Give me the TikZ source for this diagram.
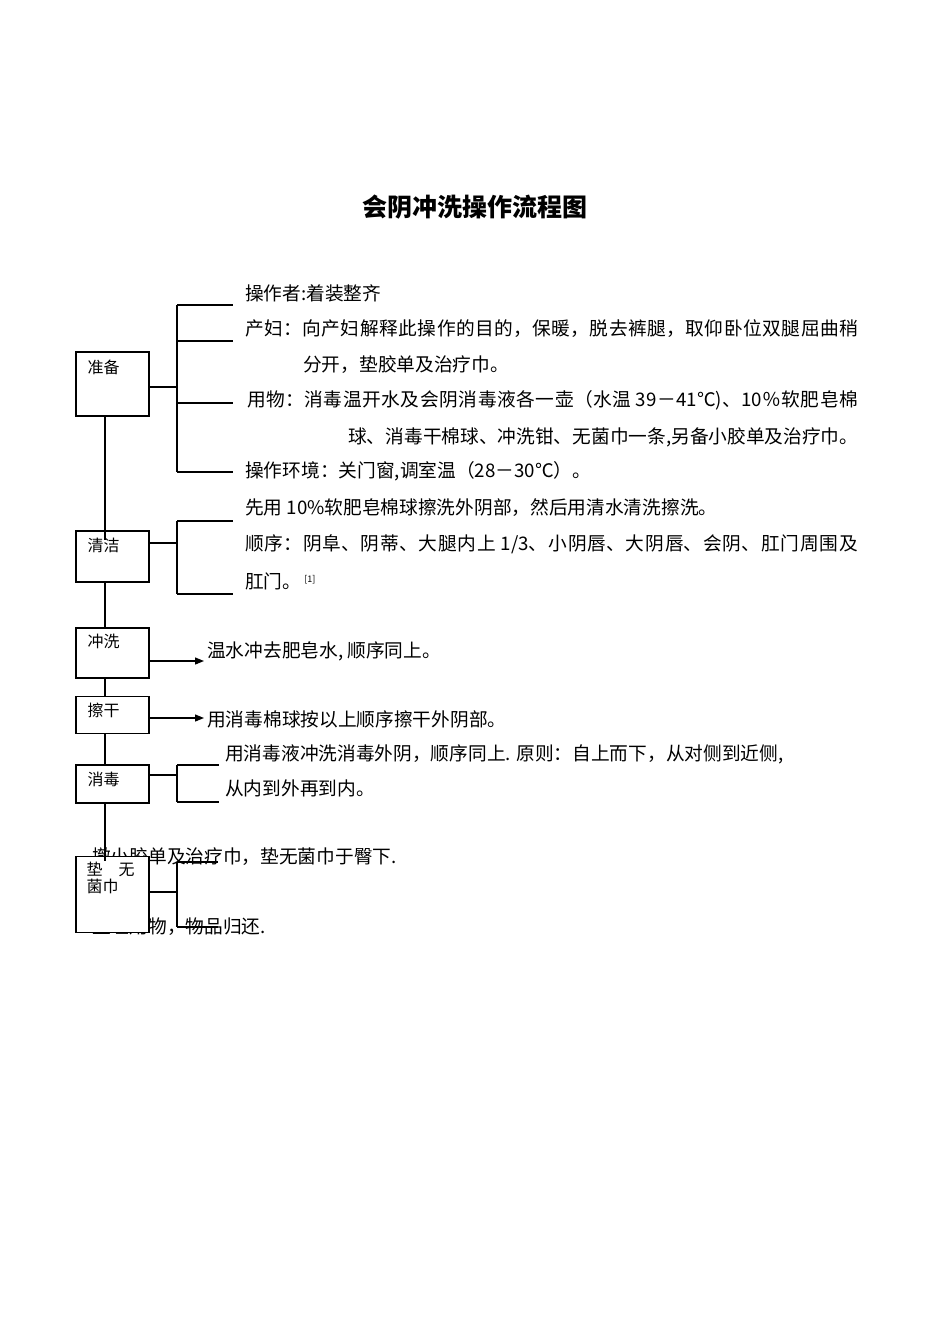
\documentclass[tikz,border=0pt]{standalone}
\usepackage{fontspec}
\setmainfont{Noto Sans CJK SC}
\usetikzlibrary{arrows.meta}
\XeTeXlinebreaklocale "zh"
\XeTeXlinebreakskip=0pt plus 3pt
\pgfdeclarelayer{textlayer}
\pgfdeclarelayer{nodelayer}
\pgfdeclarelayer{edgelayer}
\pgfsetlayers{textlayer,nodelayer,edgelayer,main}
\tikzstyle{stage}=[rectangle, draw=black, fill=white, line width=1.2pt, minimum width=73pt, inner sep=0pt]
\tikzstyle{stagetext}=[anchor=west, inner sep=0pt, align=left, font=\fontsize{16}{17}\selectfont]
\tikzstyle{item}=[anchor=west, inner sep=0pt, font=\fontsize{18.7}{19}\selectfont]
\tikzstyle{link}=[-, draw=black, line width=1.2pt]
\tikzstyle{arrow}=[-{Triangle[length=9pt,width=7pt]}, draw=black, line width=1.2pt]
\newcommand{\jline}[2]{\parbox{#1}{\parindent=0pt\parfillskip=0pt\relax #2}}

\begin{document}
\begin{tikzpicture}[x=1pt, y=-1pt]
            \useasboundingbox (0, 0) rectangle (950, 1344);
            \begin{pgfonlayer}{textlayer}
                \fill [white] (0, 0) rectangle (950, 1344);
                \node [inner sep=0pt, font=\fontsize{25}{25}\selectfont\bfseries] (title) at (475, 207) {会阴冲洗操作流程图};
                % 准备
                \node [style=item] (prep1) at (245, 293) {操作者:着装整齐};
                \node [style=item] (prep2) at (245, 329) {\jline{613pt}{产妇：向产妇解释此操作的目的，保暖，脱去裤腿，取仰卧位双腿屈曲稍}};
                \node [style=item] (prep3) at (303, 365) {分开，垫胶单及治疗巾。};
                \node [style=item] (prep4) at (247, 400) {\jline{611pt}{用物：消毒温开水及会阴消毒液各一壶（水温 39－41℃)、10％软肥皂棉}};
                \node [style=item] (prep5) at (348, 437) {球、消毒干棉球、冲洗钳、无菌巾一条,另备小胶单及治疗巾。};
                \node [style=item] (prep6) at (245, 471) {操作环境：关门窗,调室温（28－30℃）。};
                % 清洁
                \node [style=item] (clean1) at (245, 508) {先用 10\%软肥皂棉球擦洗外阴部，然后用清水清洗擦洗。};
                \node [style=item] (clean2) at (245, 544) {\jline{613pt}{顺序：阴阜、阴蒂、大腿内上 1/3、小阴唇、大阴唇、会阴、肛门周围及}};
                \node [style=item] (clean3) at (245, 581) {肛门。\,\raisebox{6pt}{\fontsize{9}{9}\selectfont[1]}};
                % 冲洗, 擦干
                \node [style=item] (wash1) at (207, 651) {温水冲去肥皂水, 顺序同上。};
                \node [style=item] (dry1) at (207, 719) {用消毒棉球按以上顺序擦干外阴部。};
                % 消毒
                \node [style=item] (dis1) at (225, 754) {用消毒液冲洗消毒外阴，顺序同上. 原则：自上而下，从对侧到近侧,};
                \node [style=item] (dis2) at (225, 788) {从内到外再到内。};
                % 垫无菌巾
                \node [style=item] (pad1) at (92, 857) {撤小胶单及治疗巾，垫无菌巾于臀下.};
                \node [style=item] (pad2) at (92, 927) {整理用物，物品归还.};
            \end{pgfonlayer}
            \begin{pgfonlayer}{nodelayer}
                \node [style=stage, minimum height=64pt, label={[stagetext, xshift=12pt, yshift=-16pt]north west:准备}] (prep) at (112.5, 384) {};
                \node [style=stage, minimum height=51pt, label={[stagetext, xshift=12pt, yshift=-15pt]north west:清洁}] (clean) at (112.5, 556.5) {};
                \node [style=stage, minimum height=50pt, label={[stagetext, xshift=12pt, yshift=-14pt]north west:冲洗}] (wash) at (112.5, 653) {};
                \node [style=stage, minimum height=37pt, label={[stagetext, xshift=12pt, yshift=-14pt]north west:擦干}] (dry) at (112.5, 715) {};
                \node [style=stage, minimum height=38pt, label={[stagetext, xshift=12pt, yshift=-15pt]north west:消毒}] (dis) at (112.5, 784) {};
                \node [style=stage, minimum height=76pt, label={[stagetext, xshift=11pt, yshift=-22.5pt]north west:垫\hspace{16pt}无\\菌巾}] (pad) at (112.5, 894.5) {};
                \coordinate (prep-j) at (177, 387);
                \coordinate (prep-a) at (233, 305);
                \coordinate (prep-b) at (233, 341);
                \coordinate (prep-c) at (233, 403);
                \coordinate (prep-d) at (233, 472);
                \coordinate (clean-j) at (177, 543);
                \coordinate (clean-a) at (233, 521);
                \coordinate (clean-b) at (233, 594);
                \coordinate (wash-tip) at (204, 661);
                \coordinate (dry-tip) at (204, 718);
                \coordinate (dis-j) at (177, 775);
                \coordinate (dis-a) at (219, 765);
                \coordinate (dis-b) at (219, 802);
                \coordinate (pad-j) at (177, 892);
                \coordinate (pad-a) at (218, 862);
                \coordinate (pad-b) at (218, 927);
            \end{pgfonlayer}
            \begin{pgfonlayer}{edgelayer}
                % trunk
                \draw [style=link] ([xshift=-7.5pt]prep.south) to ([xshift=-7.5pt, yshift=-10pt]clean.north);
                \draw [style=link] ([xshift=-7.5pt]clean.south) to ([xshift=-7.5pt]wash.north);
                \draw [style=link] ([xshift=-7.5pt]wash.south) to ([xshift=-7.5pt]dry.north);
                \draw [style=link] ([xshift=-7.5pt]dry.south) to ([xshift=-7.5pt]dis.north);
                \draw [style=link] ([xshift=-7.5pt]dis.south) to ([xshift=-7.5pt, yshift=-5pt]pad.north);
                % brackets
                \draw [style=link] (prep.east |- prep-j) to (prep-j);
                \draw [style=link] (prep-j |- prep-a) to (prep-j |- prep-d);
                \draw [style=link] (prep-j |- prep-a) to (prep-a);
                \draw [style=link] (prep-j |- prep-b) to (prep-b);
                \draw [style=link] (prep-j |- prep-c) to (prep-c);
                \draw [style=link] (prep-j |- prep-d) to (prep-d);
                \draw [style=link] (clean.east |- clean-j) to (clean-j);
                \draw [style=link] (clean-j |- clean-a) to (clean-j |- clean-b);
                \draw [style=link] (clean-j |- clean-a) to (clean-a);
                \draw [style=link] (clean-j |- clean-b) to (clean-b);
                \draw [style=arrow] (wash.east |- wash-tip) to (wash-tip);
                \draw [style=arrow] (dry.east |- dry-tip) to (dry-tip);
                \draw [style=link] (dis.east |- dis-j) to (dis-j);
                \draw [style=link] (dis-j |- dis-a) to (dis-j |- dis-b);
                \draw [style=link] (dis-j |- dis-a) to (dis-a);
                \draw [style=link] (dis-j |- dis-b) to (dis-b);
                \draw [style=link] (pad.east |- pad-j) to (pad-j);
                \draw [style=link] (pad-j |- pad-a) to (pad-j |- pad-b);
                \draw [style=link] (pad-j |- pad-a) to (pad-a);
                \draw [style=link] (pad-j |- pad-b) to (pad-b);
            \end{pgfonlayer}
\end{tikzpicture}
\end{document}
